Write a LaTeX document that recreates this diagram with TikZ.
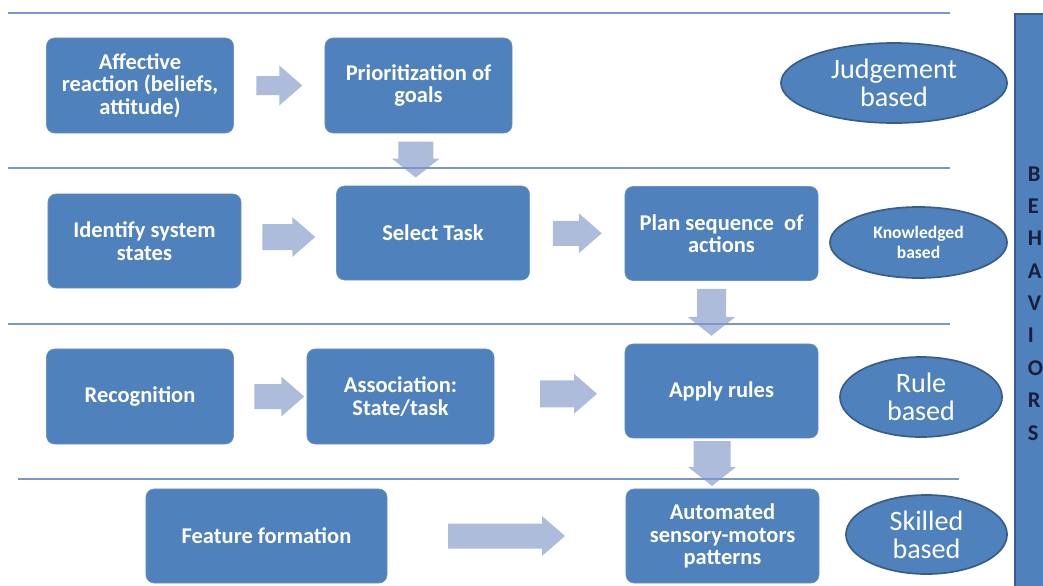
\documentclass[tikz,border=0pt]{standalone}
\usepackage{fontspec}
\setmainfont{Carlito}
\usetikzlibrary{shapes.geometric,calc}

\definecolor{boxblue}{RGB}{79,129,189}
\definecolor{edgeblue}{RGB}{56,93,138}
\definecolor{arrowblue}{RGB}{172,188,218}
\definecolor{ruleblue}{RGB}{124,150,200}
\definecolor{letterblue}{RGB}{26,30,58}

\tikzset{
  procbox/.style={rectangle, rounded corners=0.2cm, fill=boxblue, draw=boxblue!85!white,
    text=white, align=center, inner sep=0pt, font=\bfseries\fontsize{16}{16}\selectfont,
    minimum width=4.675cm, minimum height=2.375cm},
  widebox/.style={procbox, minimum width=4.825cm, minimum height=2.35cm},
  levelnode/.style={ellipse, fill=boxblue, draw=edgeblue, line width=1.2pt, text=white,
    align=center, inner sep=0pt, font=\fontsize{20}{20}\selectfont},
  behavbox/.style={rectangle, anchor=north west, fill=boxblue, draw=edgeblue, line width=1.2pt,
    text=letterblue, font=\bfseries\fontsize{16}{23}\selectfont, text width=0.45cm,
    align=left, inner xsep=0.325cm, minimum height=14.475cm},
  levelrule/.style={ruleblue, line width=0.8pt},
}

% block arrow between two boxes: [shift]{from}{to}{length}{half shaft}
\newcommand{\rightblock}[5][0]{%
  \path ($(#2.east)!0.5!(#3.west)$) ++(#1,0) coordinate (mid);
  \fill[arrowblue] (mid) ++(-#4/2,-#5) -- ++(#4-23,0) -- ++(0,#5-20) -- ++(23,20)
    -- ++(-23,20) -- ++(0,#5-20) -- ++(-#4+23,0) -- cycle;}
\newcommand{\downblock}[4]{%
  \path ($(#1.south)!0.5!(#2.north)$) ++(-10,0) coordinate (mid);
  \fill[arrowblue] (mid) ++(-#4,-#3/2) -- ++(0,#3-19) -- ++(#4-24,0) -- ++(24,19)
    -- ++(24,-19) -- ++(#4-24,0) -- ++(0,-#3+19) -- cycle;}

\begin{document}
\begin{tikzpicture}[x=0.025cm, y=-0.025cm]
  \useasboundingbox (0,0) rectangle (1043,585);
  \clip (0,0) rectangle (1043,585);

  \node[procbox] (affect) at (140,85.5) {Affective\\reaction (beliefs,\\attitude)};
  \node[procbox] (prior) at (418.5,85.5) {Prioritization of\\goals};

  \node[widebox] (identify) at (144.5,241) {Identify system\\states};
  \node[widebox] (select) at (433,233) {Select Task};
  \node[widebox] (plan) at (721.5,233.5) {Plan sequence \ of\\actions};

  \node[procbox] (recog) at (140,396.5) {Recognition};
  \node[procbox] (assoc) at (400.5,396.5) {Association:\\State/task};
  \node[widebox] (apply) at (721.5,391) {Apply rules};

  \node[widebox, minimum width=6.025cm] (feature) at (266.5,536) {Feature formation};
  \node[widebox] (auto) at (722.5,536) {Automated\\sensory-motors\\patterns};

  \node[levelnode, minimum width=5.65cm, minimum height=2cm] (judge) at (894,83) {Judgement\\based};
  \node[levelnode, minimum width=4.425cm, minimum height=1.775cm,
    font=\bfseries\fontsize{12.5}{14}\selectfont] (know) at (918.5,242.5) {Knowledged\\based};
  \node[levelnode, minimum width=4.05cm, minimum height=2cm] (rule) at (921,397) {Rule\\based};
  \node[levelnode, minimum width=4.025cm, minimum height=1.975cm] (skill) at (926.5,534.5) {Skilled\\based};

  \node[behavbox] (behav) at (1014,13) {B\\E\\H\\A\\V\\I\\O\\R\\S};

  \rightblock{affect}{prior}{46}{9.5}
  \rightblock{identify}{select}{53}{13}
  \rightblock{select}{plan}{49}{12.5}
  \rightblock[9]{recog}{assoc}{50}{12.5}
  \rightblock[9]{assoc}{apply}{57}{13.5}
  \rightblock{feature}{auto}{117}{12.5}

  \downblock{prior}{select}{36}{17.5}
  \downblock{plan}{apply}{47}{14.5}
  \downblock{apply}{auto}{45}{18.5}

  \draw[levelrule] (8,13) -- (950,13);
  \draw[levelrule] (8,168) -- (950,168);
  \draw[levelrule] (8,324) -- (950,324);
  \draw[levelrule] (18,479) -- (959,479);
\end{tikzpicture}
\end{document}
